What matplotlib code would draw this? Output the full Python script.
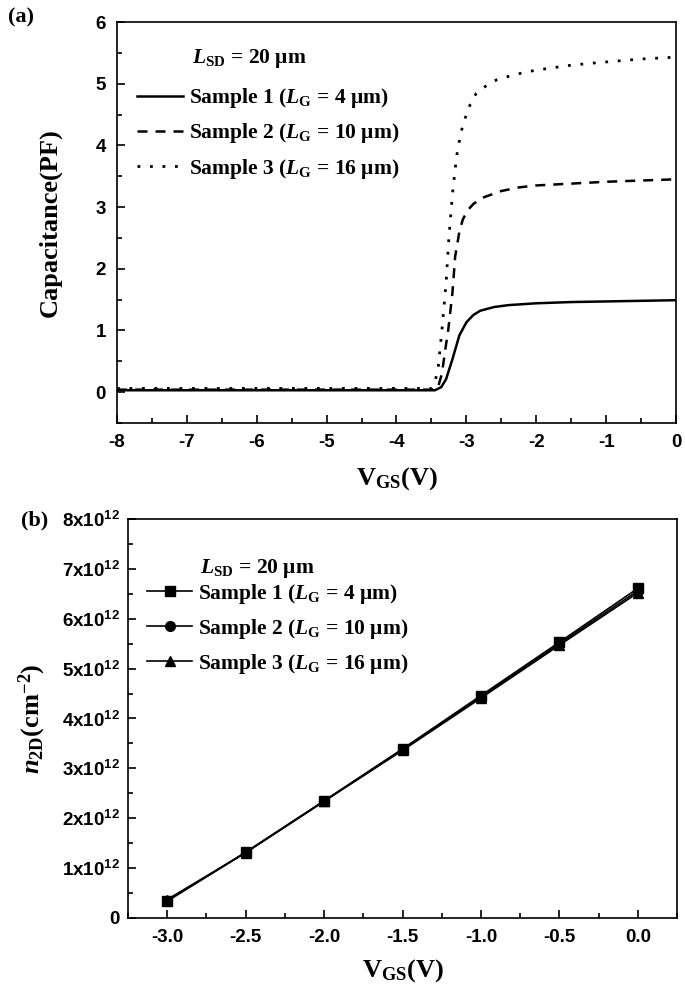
import matplotlib
matplotlib.use('Agg')
import matplotlib.pyplot as plt
from matplotlib.ticker import MultipleLocator, FuncFormatter
from matplotlib.font_manager import FontProperties

plt.rcParams['axes.unicode_minus'] = False
plt.rcParams['mathtext.fontset'] = 'custom'
plt.rcParams['mathtext.rm'] = 'Liberation Serif:bold'
plt.rcParams['mathtext.it'] = 'Liberation Serif:bold:italic'
plt.rcParams['mathtext.bf'] = 'Liberation Serif:bold'
plt.rcParams['mathtext.sf'] = 'Liberation Sans:bold'

# panel (a): C-V curves
s1_v = [-8, -4, -3.6, -3.45, -3.36, -3.29, -3.2, -3.1, -3.0, -2.9, -2.8, -2.6, -2.4, -2.0, -1.5, -1.0, -0.5, 0]
s1_c = [0.03, 0.03, 0.03, 0.03, 0.08, 0.21, 0.53, 0.92, 1.13, 1.25, 1.32, 1.38, 1.41, 1.44, 1.46, 1.47, 1.48, 1.49]

s2_v = [-8, -4, -3.6, -3.45, -3.4, -3.35, -3.3, -3.26, -3.2, -3.16, -3.1, -3.05, -2.98, -2.9, -2.77, -2.5, -2.24, -2.0, -1.5, -1.0, -0.5, 0]
s2_c = [0.04, 0.04, 0.04, 0.04, 0.1, 0.3, 0.7, 1.0, 1.6, 2.2, 2.6, 2.8, 2.95, 3.05, 3.15, 3.26, 3.32, 3.35, 3.38, 3.41, 3.43, 3.45]

s3_v = [-8, -4, -3.5, -3.45, -3.4, -3.35, -3.29, -3.25, -3.2, -3.14, -3.08, -3.03, -2.95, -2.86, -2.7, -2.57, -2.3, -2.0, -1.5, -1.13, -0.5, 0]
s3_c = [0.06, 0.06, 0.06, 0.15, 0.43, 1.0, 1.77, 2.5, 3.2, 3.82, 4.2, 4.4, 4.65, 4.84, 4.98, 5.06, 5.15, 5.22, 5.3, 5.34, 5.4, 5.43]

# panel (b): sheet density, units of 1e12 cm^-2
vgs = [-3.0, -2.5, -2.0, -1.5, -1.0, -0.5, 0.0]
n1 = [0.34, 1.32, 2.35, 3.39, 4.46, 5.53, 6.61]
n2 = [0.34, 1.31, 2.34, 3.38, 4.43, 5.50, 6.56]
n3 = [0.37, 1.31, 2.34, 3.36, 4.41, 5.47, 6.52]

labels = [r'Sample 1 ($L_{\rm G}$ = 4 μm)',
          r'Sample 2 ($L_{\rm G}$ = 10 μm)',
          r'Sample 3 ($L_{\rm G}$ = 16 μm)']

fig = plt.figure(figsize=(6.85, 9.91), dpi=100)
axa = fig.add_axes([0.1708, 0.5732, 0.816, 0.4046])
axb = fig.add_axes([0.1869, 0.0737, 0.8015, 0.4026])

tickfont = FontProperties(family='Liberation Sans', weight='bold', size=13.5)
serif = dict(family='Liberation Serif', weight='bold')
legprop = dict(family='Liberation Serif', weight='bold', size=15.5)

def style(ax):
    ax.tick_params(which='both', direction='in', top=False, right=False, width=1.2)
    ax.tick_params(which='major', length=6, pad=8)
    ax.tick_params(which='minor', length=3.5)
    for lab in ax.get_xticklabels() + ax.get_yticklabels():
        lab.set_fontproperties(tickfont)
    for sp in ax.spines.values():
        sp.set_linewidth(1.2)

axa.plot(s1_v, s1_c, color='black', lw=1.8, ls='-', label=labels[0])
axa.plot(s2_v, s2_c, color='black', lw=1.8, ls=(0, (4, 3.2)), label=labels[1])
axa.plot(s3_v, s3_c, color='black', lw=2.0, ls=(0, (1, 3.5)), label=labels[2])
axa.set_xlim(-8, 0)
axa.set_ylim(-0.5, 6)
axa.xaxis.set_major_locator(MultipleLocator(1))
axa.xaxis.set_minor_locator(MultipleLocator(0.5))
axa.yaxis.set_major_locator(MultipleLocator(1))
axa.yaxis.set_minor_locator(MultipleLocator(0.5))
style(axa)
axa.set_ylabel('Capacitance(PF)', fontsize=19, labelpad=24, **serif)
axa.set_xlabel(r'V$_{\rm GS}$(V)', fontsize=19, labelpad=10, **serif)
axa.text(0.134, 0.91, r'$L_{\rm SD}$ = 20 μm', transform=axa.transAxes,
         fontsize=15.5, va='center', **serif)
axa.legend(loc='upper left', bbox_to_anchor=(0.036, 0.84), frameon=False,
           prop=legprop, borderpad=0, borderaxespad=0,
           handlelength=2.14, handletextpad=0.28, labelspacing=0.52)
fig.text(0.012, 0.982, '(a)', fontsize=16, va='center', **serif)

axb.plot(vgs, n1, color='black', lw=1.2, marker='s', ms=7, label=labels[0])
axb.plot(vgs, n2, color='black', lw=1.2, marker='o', ms=7, label=labels[1])
axb.plot(vgs, n3, color='black', lw=1.2, marker='^', ms=7.5, label=labels[2])
axb.set_xlim(-3.25, 0.25)
axb.set_ylim(0, 8)
axb.xaxis.set_major_locator(MultipleLocator(0.5))
axb.xaxis.set_minor_locator(MultipleLocator(0.25))
axb.yaxis.set_major_locator(MultipleLocator(1))
axb.yaxis.set_minor_locator(MultipleLocator(0.5))
axb.xaxis.set_major_formatter(FuncFormatter(lambda v, p: f'{v:.1f}'))
axb.yaxis.set_major_formatter(FuncFormatter(
    lambda v, p: '0' if v == 0 else r'$\mathsf{%dx10^{12}}$' % round(v)))
style(axb)
axb.tick_params(which='major', axis='y', pad=6)
axb.set_ylabel(r'$n_{\rm 2D}$(cm$^{-2}$)', fontsize=19, labelpad=10, **serif)
axb.set_xlabel(r'V$_{\rm GS}$(V)', fontsize=19, labelpad=8, **serif)
axb.text(0.131, 0.877, r'$L_{\rm SD}$ = 20 μm', transform=axb.transAxes,
         fontsize=15.5, va='center', **serif)
axb.legend(loc='upper left', bbox_to_anchor=(0.035, 0.842), frameon=False,
           prop=legprop, borderpad=0, borderaxespad=0,
           handlelength=2.1, handletextpad=0.25, labelspacing=0.5)
fig.text(0.03, 0.475, '(b)', fontsize=16, va='center', **serif)

fig.savefig('out.png', dpi=100)
